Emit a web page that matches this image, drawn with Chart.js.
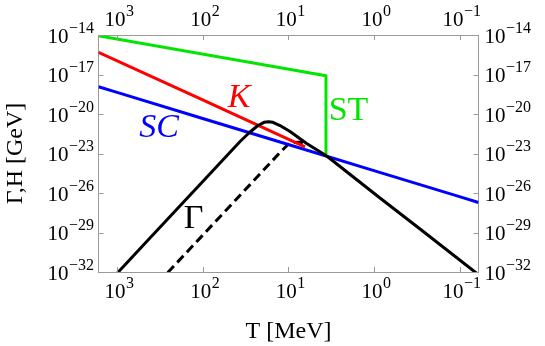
<!DOCTYPE html>
<html>
<head>
<meta charset="utf-8">
<script src="https://cdn.jsdelivr.net/npm/chart.js@4/dist/chart.umd.min.js"></script>
<style>
  html, body { margin: 0; padding: 0; background: #fff; }
  #c { display: block; }
</style>
</head>
<body>
<canvas id="c" width="545" height="346"></canvas>
<script>
// ---- Data (T in MeV, rates in GeV) ----
const xTickValues = [1000, 100, 10, 1, 0.1];
const xTickExps   = ['3', '2', '1', '0', '−1'];
const yTickValues = [1e-14, 1e-17, 1e-20, 1e-23, 1e-26, 1e-29, 1e-32];
const yTickExps   = ['−14', '−17', '−20', '−23', '−26', '−29', '−32'];
const tickBase = '10';

// Gamma (solid black)
const gammaT = [1277, 968, 413, 107.6, 36.6, 28.0, 22.6, 19.2, 17.1, 15.1, 12.5, 9.55, 6.10, 3.56, 0.849, 0.289, 0.0659, 0.0504];
const gammaV = [1.46e-33, 1e-32, 3.82e-30, 4.41e-26, 8.11e-23, 4.27e-22, 1.33e-21, 2.33e-21, 2.58e-21, 2.33e-21, 1.33e-21, 4.66e-22, 5.71e-23, 6.43e-24, 4.16e-27, 1.84e-29, 1e-32, 2.65e-33];

// Gamma (dashed black)
const gammaDashT = [332.6, 252.4, 107.6, 28.0, 12.5, 10.08, 8.81, 7.30, 6.10];
const gammaDashV = [1.54e-33, 1e-32, 3.75e-30, 4.33e-26, 1.19e-23, 4.80e-23, 6.81e-23, 7.05e-23, 5.71e-23];

// SC (blue)
const scT = [1649, 1000, 100, 10, 1, 0.1, 0.060];
const scV = [1.17e-18, 4.37e-19, 4.57e-21, 4.79e-23, 5.01e-25, 5.25e-27, 1.91e-27];

// K (red)
const kT = [1649, 100, 6.38];
const kV = [4.79e-16, 1.17e-19, 3.24e-23];

// ST (green)
const stT = [1649, 3.63, 3.63];
const stV = [8.7e-15, 7.9e-18, 1.02e-23];

// Curve labels (anchor in data coordinates)
const curveLabels = [
  { text: 'K',  T: 37.7, v: 1.62e-19, color: '#ff0000', style: 'italic' },
  { text: 'SC', T: 324,  v: 9.3e-22,  color: '#0000ff', style: 'italic' },
  { text: 'ST', T: 1.98, v: 1.66e-20, color: '#00e600', style: 'normal' },
  { text: 'Γ',  T: 128,  v: 1.05e-28, color: '#000000', style: 'normal' }
];

const pts = (xs, ys) => xs.map((x, i) => ({ x: x, y: ys[i] }));
const SERIF = '"Liberation Serif", "DejaVu Serif", serif';
const BASE_FONT = '21px ' + SERIF;
const EXP_FONT = '16px ' + SERIF;

const labelPlugin = {
  id: 'curveLabels',
  afterDatasetsDraw(chart) {
    const ctx = chart.ctx;
    const xs = chart.scales.x, ys = chart.scales.y;
    ctx.save();
    ctx.textAlign = 'center';
    ctx.textBaseline = 'middle';
    curveLabels.forEach(l => {
      ctx.font = l.style + ' 34px ' + SERIF;
      ctx.fillStyle = l.color;
      ctx.fillText(l.text, xs.getPixelForValue(l.T), ys.getPixelForValue(l.v));
    });
    ctx.restore();
  }
};

// power-of-ten tick labels with a real superscript
function drawPow(ctx, exp, x, baseline, align) {
  ctx.font = BASE_FONT;
  const wb = ctx.measureText(tickBase).width;
  ctx.font = EXP_FONT;
  const we = ctx.measureText(exp).width;
  const w = wb + we;
  let x0 = x;
  if (align === 'center') x0 = x - w / 2;
  else if (align === 'right') x0 = x - w;
  ctx.textAlign = 'left';
  ctx.textBaseline = 'alphabetic';
  ctx.font = BASE_FONT;
  ctx.fillText(tickBase, x0, baseline);
  ctx.font = EXP_FONT;
  ctx.fillText(exp, x0 + wb + 0.5, baseline - 10);
}

const axesDecor = {
  id: 'axesDecor',
  afterDraw(chart) {
    const ctx = chart.ctx, a = chart.chartArea, L = 5;
    ctx.save();
    ctx.strokeStyle = '#9a9a9a';
    ctx.lineWidth = 1;
    ctx.beginPath();
    xTickValues.forEach(v => {
      const px = Math.round(chart.scales.x.getPixelForValue(v)) + 0.5;
      ctx.moveTo(px, a.bottom); ctx.lineTo(px, a.bottom - L);
      ctx.moveTo(px, a.top); ctx.lineTo(px, a.top + L);
    });
    yTickValues.forEach(v => {
      const py = Math.round(chart.scales.y.getPixelForValue(v)) + 0.5;
      ctx.moveTo(a.left, py); ctx.lineTo(a.left + L, py);
      ctx.moveTo(a.right, py); ctx.lineTo(a.right - L, py);
    });
    ctx.stroke();
    ctx.fillStyle = '#000';
    xTickValues.forEach((v, i) => {
      const px = chart.scales.x.getPixelForValue(v) + 2;
      drawPow(ctx, xTickExps[i], px, a.bottom + 26, 'center');
      drawPow(ctx, xTickExps[i], px, a.top - 9.5, 'center');
    });
    yTickValues.forEach((v, i) => {
      const py = chart.scales.y.getPixelForValue(v);
      drawPow(ctx, yTickExps[i], a.left - 5, py + 7.5, 'right');
      drawPow(ctx, yTickExps[i], a.right + 6, py + 7.5, 'left');
    });
    ctx.restore();
  }
};

const gridOpts = { display: true, drawOnChartArea: false, drawTicks: false };
const borderOpts = { display: true, color: '#9a9a9a', width: 1 };

function xAxis(pos, height, title) {
  return {
    type: 'logarithmic', position: pos, reverse: true, min: 0.060, max: 1649,
    grid: gridOpts, border: borderOpts,
    afterBuildTicks: s => { s.ticks = xTickValues.map(v => ({ value: v })); },
    afterFit: s => { s.height = height; },
    ticks: { display: false },
    title: title
  };
}
function yAxis(pos, width, title) {
  return {
    type: 'logarithmic', position: pos, min: 1e-32, max: 1e-14,
    grid: gridOpts, border: borderOpts,
    afterBuildTicks: s => { s.ticks = yTickValues.map(v => ({ value: v })); },
    afterFit: s => { s.width = width; },
    ticks: { display: false },
    title: title
  };
}

new Chart(document.getElementById('c'), {
  type: 'line',
  data: {
    datasets: [
      { data: pts(gammaT, gammaV), borderColor: '#000', borderWidth: 3 },
      { data: pts(stT, stV), borderColor: '#00e600', borderWidth: 3 },
      { data: pts(kT, kV), borderColor: '#ff0000', borderWidth: 3 },
      { data: pts(scT, scV), borderColor: '#0000ff', borderWidth: 3 },
      { data: pts(gammaDashT, gammaDashV), borderColor: '#000', borderWidth: 3, borderDash: [9, 5] }
    ]
  },
  options: {
    responsive: false,
    animation: false,
    devicePixelRatio: 1,
    parsing: false,
    elements: { point: { radius: 0 }, line: { tension: 0, fill: false, borderCapStyle: 'butt', borderJoinStyle: 'round' } },
    layout: { padding: 0 },
    plugins: { legend: { display: false }, tooltip: { enabled: false } },
    scales: {
      x: xAxis('bottom', 74, { display: true, text: 'T [MeV]', color: '#000',
        font: { family: SERIF, size: 24 }, padding: { top: 4, bottom: 0 } }),
      x2: xAxis('top', 35, { display: false }),
      y: yAxis('left', 98.5, { display: true, text: 'Γ,H [GeV]', color: '#000',
        font: { family: SERIF, size: 24 }, padding: { top: 1, bottom: 0 } }),
      y2: yAxis('right', 66.5, { display: false })
    }
  },
  plugins: [labelPlugin, axesDecor]
});
</script>
</body>
</html>
